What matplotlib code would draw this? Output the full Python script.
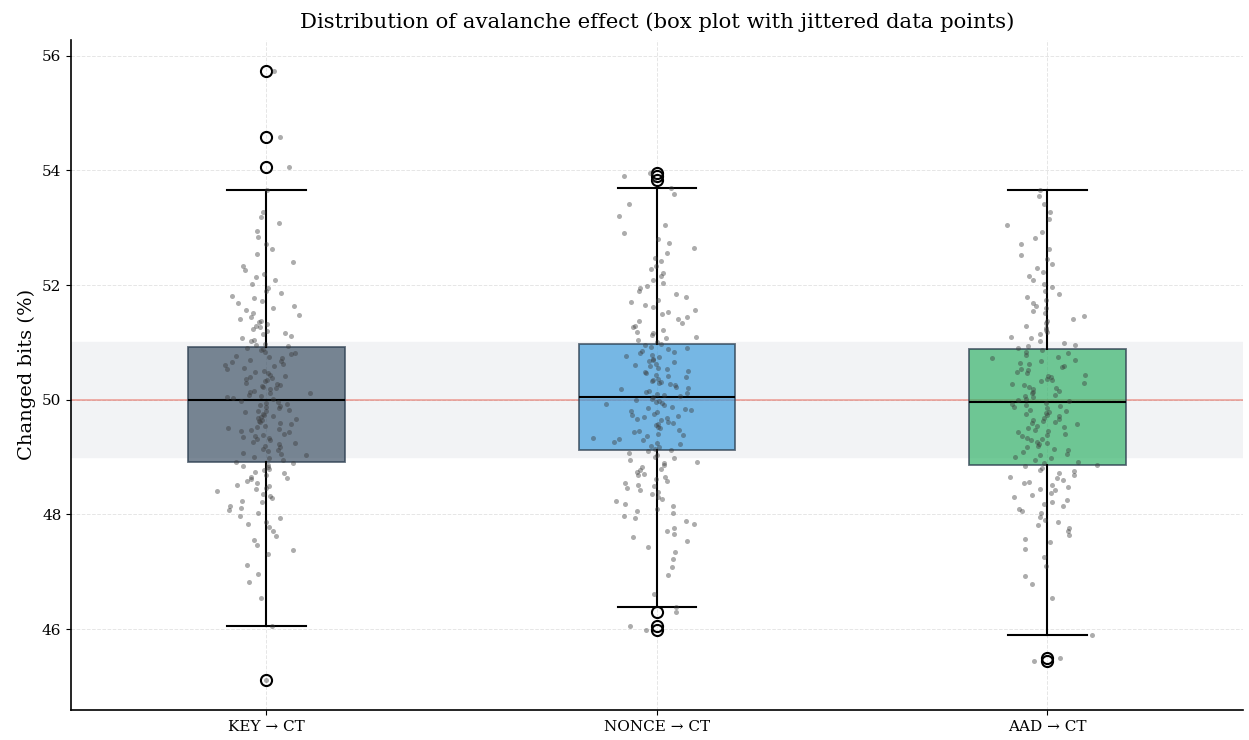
import numpy as np
import matplotlib
matplotlib.use("Agg")
import matplotlib.pyplot as plt
from matplotlib.colors import to_rgba

plt.rcParams['font.family'] = ['DejaVu Serif', 'DejaVu Sans']

# --- data (changed bits, %) ---
labels = ["KEY → CT", "NONCE → CT", "AAD → CT"]

key_ct = [
    45.11, 46.06, 46.55, 46.83, 46.97, 47.12, 47.31, 47.38, 47.46,
    47.55, 47.62, 47.71, 47.78, 47.84, 47.86, 47.93, 47.97,
    48.03, 48.08, 48.12, 48.15, 48.21, 48.24, 48.29, 48.33, 48.36, 48.41, 48.44, 48.47, 48.49,
    48.52, 48.55, 48.58, 48.61, 48.63, 48.66, 48.69, 48.72, 48.74, 48.77, 48.79, 48.82, 48.84,
    48.87, 48.89, 48.92, 48.95, 48.98,
    49.01, 49.03, 49.06, 49.08, 49.11, 49.13, 49.15, 49.18, 49.20, 49.22, 49.24, 49.27, 49.29,
    49.31, 49.33, 49.35, 49.37, 49.39, 49.41, 49.43, 49.45, 49.47, 49.49,
    49.51, 49.53, 49.55, 49.57, 49.59, 49.61, 49.63, 49.65, 49.67, 49.68, 49.70, 49.72, 49.74,
    49.76, 49.78, 49.80, 49.81, 49.83, 49.85, 49.87, 49.89, 49.90, 49.92, 49.94, 49.96, 49.98,
    50.01, 50.03, 50.05, 50.07, 50.09, 50.11, 50.12, 50.14, 50.16, 50.18, 50.20, 50.22, 50.24,
    50.26, 50.28, 50.30, 50.32, 50.34, 50.36, 50.38, 50.40, 50.42, 50.44, 50.46, 50.48,
    50.51, 50.53, 50.56, 50.58, 50.60, 50.62, 50.65, 50.67, 50.69, 50.72, 50.74, 50.76, 50.79,
    50.81, 50.83, 50.86, 50.88, 50.90, 50.93, 50.95, 50.97,
    51.02, 51.05, 51.08, 51.11, 51.14, 51.17, 51.20, 51.23, 51.26, 51.29, 51.32, 51.35, 51.38,
    51.41, 51.45, 51.48,
    51.52, 51.56, 51.60, 51.64, 51.68, 51.72, 51.77, 51.81, 51.86, 51.90, 51.95,
    52.02, 52.08, 52.14, 52.20, 52.27, 52.33, 52.41,
    52.55, 52.63, 52.72, 52.84, 52.95,
    53.08, 53.19, 53.27, 53.66, 54.05, 54.59, 55.74,
]

nonce_ct = [
    45.99, 46.06, 46.30, 46.39, 46.62, 46.95, 47.08, 47.22, 47.35, 47.44,
    47.53, 47.60, 47.66, 47.72, 47.77, 47.83, 47.88, 47.94, 47.98,
    48.02, 48.06, 48.10, 48.14, 48.19, 48.23, 48.27, 48.31, 48.35, 48.39, 48.43, 48.46, 48.49,
    48.52, 48.55, 48.59, 48.62, 48.65, 48.68, 48.71, 48.74, 48.77, 48.80, 48.83, 48.86, 48.89,
    48.92, 48.95, 48.98,
    49.01, 49.04, 49.07, 49.10, 49.12, 49.15, 49.17, 49.20, 49.22, 49.25, 49.27, 49.30, 49.32,
    49.34, 49.36, 49.39, 49.41, 49.43, 49.46, 49.48,
    49.51, 49.53, 49.56, 49.58, 49.60, 49.62, 49.64, 49.66, 49.68, 49.70, 49.72, 49.74, 49.76,
    49.78, 49.80, 49.82, 49.84, 49.86, 49.88, 49.90, 49.92, 49.94, 49.96, 49.98, 50.00, 50.02, 50.04,
    50.06, 50.08, 50.10, 50.12, 50.14, 50.16, 50.18, 50.20, 50.22, 50.25, 50.27, 50.29, 50.31,
    50.33, 50.35, 50.37, 50.39, 50.42, 50.44, 50.46, 50.48,
    50.51, 50.53, 50.55, 50.58, 50.60, 50.62, 50.65, 50.67, 50.69, 50.71, 50.74, 50.76, 50.78,
    50.81, 50.83, 50.85, 50.88, 50.90, 50.92, 50.95, 50.97,
    51.01, 51.04, 51.07, 51.10, 51.13, 51.16, 51.19, 51.22, 51.26, 51.29, 51.33, 51.37, 51.41,
    51.45, 51.49,
    51.53, 51.57, 51.61, 51.65, 51.70, 51.74, 51.79, 51.84, 51.89, 51.94, 51.98,
    52.03, 52.09, 52.15, 52.21, 52.28, 52.34, 52.42, 52.48,
    52.56, 52.64, 52.73, 52.81, 52.90,
    53.05, 53.21, 53.42, 53.58, 53.70, 53.84, 53.90, 53.96,
]

aad_ct = [
    45.45, 45.50, 45.90, 46.55, 46.78, 46.92, 47.10, 47.25, 47.40,
    47.52, 47.58, 47.65, 47.71, 47.76, 47.82, 47.87, 47.91, 47.96,
    48.02, 48.06, 48.10, 48.14, 48.18, 48.22, 48.26, 48.30, 48.34, 48.38, 48.42, 48.45, 48.48,
    48.51, 48.54, 48.57, 48.60, 48.63, 48.66, 48.69, 48.72, 48.75, 48.78, 48.81, 48.84, 48.86,
    48.89, 48.92, 48.95, 48.98,
    49.01, 49.04, 49.06, 49.09, 49.12, 49.14, 49.17, 49.19, 49.22, 49.24, 49.27, 49.29, 49.31,
    49.34, 49.36, 49.39, 49.41, 49.43, 49.46, 49.48,
    49.51, 49.53, 49.55, 49.57, 49.59, 49.61, 49.63, 49.65, 49.67, 49.69, 49.71, 49.73, 49.75,
    49.77, 49.79, 49.81, 49.83, 49.85, 49.87, 49.89, 49.91, 49.93, 49.95,
    49.97, 49.99, 50.02, 50.04, 50.06, 50.09, 50.11, 50.13, 50.16, 50.18, 50.20, 50.23, 50.25,
    50.27, 50.30, 50.32, 50.34, 50.37, 50.39, 50.41, 50.44, 50.46, 50.49,
    50.52, 50.54, 50.57, 50.59, 50.62, 50.64, 50.67, 50.70, 50.72, 50.75, 50.78, 50.81, 50.84,
    50.87, 50.90, 50.93, 50.96, 50.99,
    51.03, 51.07, 51.10, 51.14, 51.18, 51.21, 51.25, 51.29, 51.33, 51.37, 51.41, 51.46,
    51.51, 51.55, 51.60, 51.64, 51.69, 51.74, 51.79, 51.84, 51.90, 51.96,
    52.02, 52.08, 52.15, 52.22, 52.29, 52.37, 52.45,
    52.53, 52.62, 52.71, 52.82, 52.93,
    53.04, 53.15, 53.28, 53.41, 53.55, 53.66,
]

# box statistics as drawn in the reference
medians = [50.00, 50.05, 49.96]
q1s = [48.92, 49.13, 48.87]
q3s = [50.92, 50.98, 50.89]
whisker_lo = [46.06, 46.39, 45.90]
whisker_hi = [53.66, 53.70, 53.66]
outliers = [
    [45.11, 54.05, 54.59, 55.74],
    [45.99, 46.06, 46.30, 53.84, 53.90, 53.96],
    [45.45, 45.50],
]

box_colors = ["#34495e", "#3498db", "#27ae60"]

# --- plotting ---
fig = plt.figure(figsize=(12.49, 7.40), dpi=100)
ax = fig.add_axes([0.057, 0.0405, 0.938, 0.906])

positions = [1, 2, 3]
stats = []
for i in range(3):
    stats.append(dict(med=medians[i], q1=q1s[i], q3=q3s[i],
                      whislo=whisker_lo[i], whishi=whisker_hi[i],
                      fliers=outliers[i], label=labels[i]))

# reference band and ideal line
ax.axhspan(49, 51, color="#f2f3f5", zorder=0)
ax.axhline(50, color="#e74c3c", alpha=0.5, linewidth=1.2, zorder=1)

bp = ax.bxp(stats, positions=positions, widths=0.4, patch_artist=True,
            capwidths=0.2,
            medianprops=dict(color="black", linewidth=1.5),
            whiskerprops=dict(color="black", linewidth=1.5),
            capprops=dict(color="black", linewidth=1.5),
            flierprops=dict(marker="o", markerfacecolor="none",
                            markeredgecolor="black", markersize=8,
                            markeredgewidth=1.5),
            boxprops=dict(linewidth=1.3),
            zorder=2)
for patch, c in zip(bp["boxes"], box_colors):
    patch.set_facecolor(to_rgba(c, 0.65))
    patch.set_edgecolor(to_rgba("#2c3e50", 0.75))

# jittered raw points (fixed seed only for the horizontal jitter)
rng = np.random.default_rng(7)
for pos, vals in zip(positions, [key_ct, nonce_ct, aad_ct]):
    xj = pos + rng.normal(0, 0.05, len(vals))
    ax.scatter(xj, vals, s=13, color="#3a3a3a", alpha=0.42,
               linewidths=0, zorder=3)

ax.set_xlim(0.5, 3.5)
ax.set_ylim(44.59, 56.28)
ax.set_yticks([46, 48, 50, 52, 54, 56])
ax.set_xticks(positions)
ax.set_xticklabels(labels, fontsize=11)
ax.tick_params(axis="y", labelsize=11)
ax.set_ylabel("Changed bits (%)", fontsize=14)
ax.set_title("Distribution of avalanche effect (box plot with jittered data points)",
             fontsize=15.2, pad=8)

ax.grid(True, linestyle="--", linewidth=0.7, color="#cccccc", alpha=0.5)
ax.set_axisbelow(True)
for side in ["top", "right"]:
    ax.spines[side].set_visible(False)
for side in ["left", "bottom"]:
    ax.spines[side].set_linewidth(1.2)

fig.savefig("out.png", dpi=100)
